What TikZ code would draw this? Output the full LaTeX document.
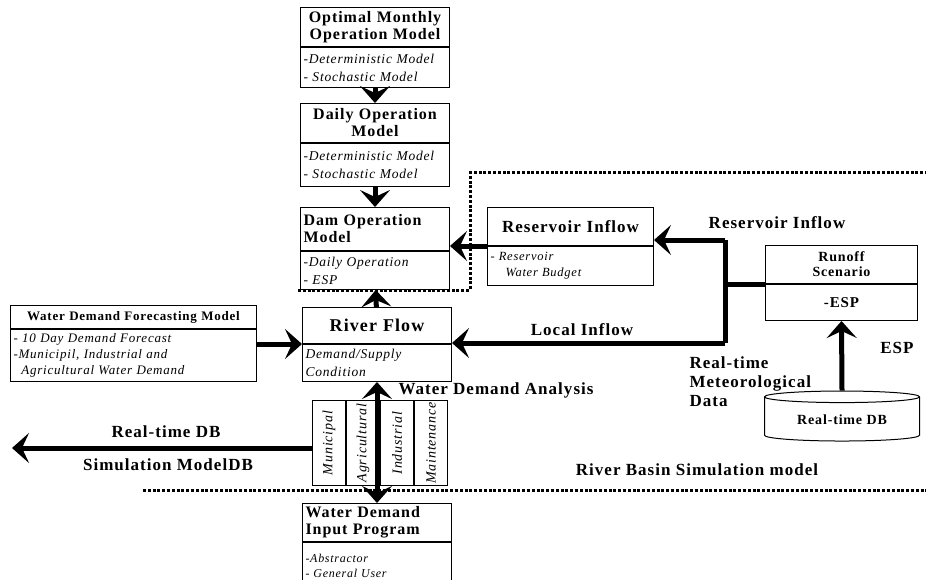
\documentclass[tikz,border=0pt]{standalone}
\usepackage{fontspec}
\usepackage{graphicx}
\setmainfont{Liberation Serif}[LetterSpace=6]
\usetikzlibrary{positioning,calc,arrows.meta,shapes.geometric}

\tikzset{
  head/.style={draw, line width=1pt, align=center, inner sep=3pt, text width=143pt,
    anchor=north west, font=\bfseries\fontsize{16}{17}\selectfont},
  body/.style={draw, line width=1pt, align=left, inner sep=3pt, text width=143pt,
    font=\itshape\fontsize{13.5}{18}\selectfont},
  fat/.style={line width=5pt, -{Stealth[length=17pt,width=30pt,inset=7pt]}},
  bound/.style={line width=3pt, dash pattern=on 3pt off 1.8pt},
  lab/.style={font=\bfseries\fontsize{17}{19}\selectfont, align=left},
  col/.style={draw, line width=1pt, minimum width=33pt, minimum height=85pt, inner sep=0pt,
    font=\itshape\fontsize{14}{15}\selectfont}
}

\begin{document}
\begin{tikzpicture}[x=1pt, y=-1pt]
\useasboundingbox (0,0) rectangle (926,580);

% operation models
\node[head, minimum height=39pt] (optt) at (300,7) {Optimal Monthly\\Operation Model};
\node[body, minimum height=40pt, below=0pt of optt] (optb) {-Deterministic Model\\- Stochastic Model};
\node[head, minimum height=39pt] (dayt) at (300,103) {Daily Operation\\Model};
\node[body, minimum height=43pt, below=0pt of dayt] (dayb) {-Deterministic Model\\- Stochastic Model};
\node[head, minimum height=43pt, align=left] (damt) at (300,207) {Dam Operation\\Model};
\node[body, minimum height=38pt, below=0pt of damt] (damb) {-Daily Operation\\- ESP};

% river flow and demand
\node[head, minimum height=36pt, font=\bfseries\fontsize{18}{20}\selectfont] (rivt) at (302,307) {River Flow};
\node[body, minimum height=37pt, below=0pt of rivt] (rivb) {Demand/Supply\\Condition};
\node[head, minimum height=23pt, text width=240pt, font=\bfseries\fontsize{13}{15}\selectfont] (foret) at (10,305) {Water Demand Forecasting Model};
\node[body, minimum height=52pt, text width=240pt, below=0pt of foret, font=\itshape\fontsize{13}{16}\selectfont] (foreb) {- 10 Day Demand Forecast\\-Municipil, Industrial and\\\hspace*{0.6em}Agricultural Water Demand};
\node[head, minimum height=34pt, align=left] (inpt) at (302,503) {Water Demand\\Input Program};
\node[body, minimum height=48pt, below=0pt of inpt, font=\itshape\fontsize{12}{15}\selectfont] (inpb) {-Abstractor\\- General User};

\node[col, anchor=north west] (mun) at (312,400) {\rotatebox{90}{Municipal}};
\node[col, right=0pt of mun] (agr) {\rotatebox{90}{Agricultural}};
\node[col, right=0pt of agr] (ind) {\rotatebox{90}{Industrial}};
\node[col, right=0pt of ind] (mai) {\rotatebox{90}{Maintenance}};

% inflow side
\node[head, minimum height=38pt, text width=160pt, font=\bfseries\fontsize{17}{19}\selectfont] (rest) at (487,207) {Reservoir Inflow};
\node[body, minimum height=39pt, text width=160pt, below=0pt of rest, font=\itshape\fontsize{12.5}{16}\selectfont] (resb) {- Reservoir\\\hspace*{1.2em}Water Budget};
\node[head, minimum height=38pt, text width=146pt, font=\bfseries\fontsize{14}{15}\selectfont] (runt) at (765,245) {Runoff\\Scenario};
\node[body, minimum height=36pt, text width=146pt, below=0pt of runt, align=center, font=\bfseries\fontsize{15}{17}\selectfont] (runb) {-ESP};
\node[cylinder, shape border rotate=90, draw, line width=1pt, aspect=0.12, minimum width=155pt,
  minimum height=50pt, font=\bfseries\fontsize{14}{16}\selectfont] (db) at (842,420) {Real-time DB};

\coordinate (jt) at (725,240);
\coordinate (jb) at (725,343);
\coordinate (dbend) at (12,448);

% labels
\node[lab] (resl) at (777,223) {Reservoir Inflow};
\node[lab] (locl) at (582,330) {Local Inflow};
\node[lab, anchor=north west] (metl) at (686,353) {Real-time\\Meteorological\\Data};
\node[lab] (espl) at (897,348) {ESP};
\node[lab] (basl) at (697,470) {River Basin Simulation model};
\node[lab, anchor=west] (anal) at (395,390) {Water Demand Analysis};
\node[lab] (rtdb) at (166,432) {Real-time DB};
\node[lab] (simdb) at (168,465) {Simulation ModelDB};

% arrows
\draw[fat] (optb) -- (dayt);
\draw[fat] (dayb) -- (damt);
\draw[fat] (rivt) -- (damb);
\draw[fat] (rest.south west) -- (rest.south west -| damb.east);
\draw[line width=5pt] (jt) -- (jb);
\draw[fat] (jt) -- (jt -| rest.east);
\draw[line width=5pt] (jt |- runt.south west) -- (runt.south west);
\draw[fat] (jb) -- (jb -| rivt.east);
\draw[fat] (foreb.east |- rivt.south) -- (rivt.south west);
\draw[fat] (db.north) -- (runb.south);
\draw[line width=5pt, {Stealth[length=17pt,width=30pt,inset=7pt]}-{Stealth[length=17pt,width=30pt,inset=7pt]}] (inpt.north) -- (rivb.south);
\draw[fat] (mun.west |- dbend) -- (dbend);

% simulation model bounds
\draw[bound] (298,290) -- (470,290) -- (470,173) -- (926,173);
\draw[bound] (143,490) -- (926,490);
\end{tikzpicture}
\end{document}
